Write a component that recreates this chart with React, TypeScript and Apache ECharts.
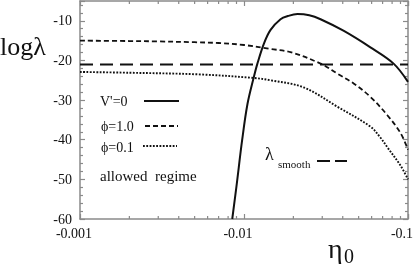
import React, { useEffect, useRef } from "react";
import * as echarts from "echarts";

// x tick labels (eta_0 is negative, axis shows |eta_0| on a log scale)
const xTickLabels = ["-0.001", "-0.01", "-0.1"];
const xMinorTickValues = [
  0.002, 0.003, 0.004, 0.005, 0.006, 0.007, 0.008, 0.009,
  0.02, 0.03, 0.04, 0.05, 0.06, 0.07, 0.08, 0.09,
];

// V' = 0 (solid)
const etaV0 = [0.00848, 0.009, 0.00975, 0.0105, 0.01148, 0.01207, 0.01321, 0.01452, 0.0167, 0.0185, 0.0212, 0.025, 0.0293, 0.0404, 0.059, 0.0817, 0.1];
const logLamV0 = [-60, -51.7, -40, -31, -24.2, -20.8, -15.8, -12.3, -9.6, -8.8, -8.3, -8.6, -9.6, -12.5, -16.7, -20.8, -25.4];

// phi = 1.0 (dashed)
const etaPhi10 = [0.001, 0.002, 0.003, 0.005, 0.007, 0.01, 0.0145, 0.0192, 0.0293, 0.037, 0.0466, 0.059, 0.0746, 0.09, 0.1];
const logLamPhi10 = [-15.0, -15.1, -15.2, -15.4, -15.6, -16.1, -17.1, -17.9, -20.8, -23.3, -25.8, -29.2, -33.75, -38.3, -42.5];

// phi = 0.1 (dotted)
const etaPhi01 = [0.001, 0.002, 0.0052, 0.0114, 0.0145, 0.0231, 0.0372, 0.059, 0.068, 0.0751, 0.09, 0.1];
const logLamPhi01 = [-22.9, -23.1, -23.5, -24.4, -25, -26.8, -31.7, -36.7, -39.5, -42, -46.5, -50];

// lambda_smooth (long dashed)
const etaSmooth = [0.001, 0.1];
const logLamSmooth = [-21, -21];

const FONT = "Liberation Serif";
const INK = "#111";
const AXIS = "#8a8a8a";

const zip = (xs: number[], ys: number[]) => xs.map((x, i) => [x, ys[i]]);

export default function App() {
  const ref = useRef<HTMLDivElement>(null);
  useEffect(() => {
    if (!ref.current) return;
    const chart = echarts.init(ref.current, undefined, { renderer: "svg" });
    const axisLine = { show: true, onZero: false, lineStyle: { color: AXIS, width: 1.5 } };
    const xMain = (pos: string, labels: boolean) => ({
      type: "log",
      logBase: 10,
      min: 0.001,
      max: 0.1,
      position: pos,
      axisLine,
      axisTick: { show: true, inside: true, length: 5, lineStyle: { color: AXIS, width: 1.2 } },
      axisLabel: {
        show: labels,
        fontFamily: FONT,
        fontSize: 14,
        color: INK,
        margin: 7,
        padding: [0, 12, 0, 0],
        formatter: (_v: number, i: number) => xTickLabels[i] ?? "",
      },
      splitLine: { show: false },
      minorTick: { show: false },
    });
    const yAx = (pos: string, labels: boolean) => ({
      type: "value",
      min: -60,
      max: -5,
      interval: 10,
      position: pos,
      axisLine,
      axisTick: { show: true, inside: true, length: 5, lineStyle: { color: AXIS, width: 1.2 } },
      minorTick: { show: true, splitNumber: 5, length: 3, lineStyle: { color: AXIS, width: 1.2 } },
      axisLabel: {
        show: labels,
        fontFamily: FONT,
        fontSize: 14,
        color: INK,
        margin: 8,
        formatter: (v: number) => (v === -5 ? "" : String(v)),
      },
      splitLine: { show: false },
      minorSplitLine: { show: false },
    });
    const lineSeries = (data: number[][], width: number, type: any) => ({
      type: "line",
      xAxisIndex: 0,
      yAxisIndex: 0,
      data,
      showSymbol: false,
      smooth: 0.35,
      clip: true,
      lineStyle: { color: INK, width, type },
    });
    const txt = (text: string, x: number, y: number, fontSize: number, align = "left") => ({
      type: "text",
      x,
      y,
      style: { text, fontFamily: FONT, fontSize, fill: INK, align, verticalAlign: "middle" },
    });
    const ln = (x1: number, y: number, x2: number, width: number, dash?: number[]) => ({
      type: "line",
      shape: { x1, y1: y, x2, y2: y },
      style: { stroke: INK, lineWidth: width, lineDash: dash },
    });
    const baseGraphic: any[] = [
      txt("logλ", 0, 46, 26),
      txt("η", 328, 248, 28),
      txt("0", 344, 256, 20),
      txt("V'=0", 100, 101, 14),
      ln(144, 101, 179, 2),
      txt("ϕ=1.0", 101, 126, 14),
      ln(145, 126, 178, 1.8, [5, 3]),
      txt("ϕ=0.1", 101, 147, 14),
      ln(143, 146, 177, 1.9, [1.8, 1.5]),
      txt("allowed  regime", 100, 176, 15),
      txt("λ", 265, 154, 18),
      txt("smooth", 278, 164, 11),
      ln(317, 161, 347, 2, [13, 5]),
    ];
    chart.setOption({
      animation: false,
      textStyle: { fontFamily: FONT },
      grid: { left: 80, right: 7, top: 1, bottom: 48, containLabel: false, outerBoundsMode: "none" },
      xAxis: [xMain("bottom", true), xMain("top", false)],
      yAxis: [yAx("left", true), yAx("right", false)],
      series: [
        lineSeries(zip(etaV0, logLamV0), 2, "solid"),
        lineSeries(zip(etaPhi10, logLamPhi10), 1.8, [5, 3]),
        lineSeries(zip(etaPhi01, logLamPhi01), 1.9, [1.8, 1.5]),
        { ...lineSeries(zip(etaSmooth, logLamSmooth), 2, [13, 7]), smooth: false },
      ],
      graphic: baseGraphic,
    });
    // log-spaced minor ticks on bottom and top x axes, placed through the axis scale
    const yBottom = chart.convertToPixel({ yAxisIndex: 0 }, -60) as number;
    const yTop = chart.convertToPixel({ yAxisIndex: 0 }, -5) as number;
    const tickEls: any[] = [];
    xMinorTickValues.forEach((v) => {
      const px = chart.convertToPixel({ xAxisIndex: 0 }, v) as number;
      tickEls.push({ type: "line", silent: true, shape: { x1: px, y1: yBottom, x2: px, y2: yBottom - 3 }, style: { stroke: AXIS, lineWidth: 1.2 } });
      tickEls.push({ type: "line", silent: true, shape: { x1: px, y1: yTop, x2: px, y2: yTop + 3 }, style: { stroke: AXIS, lineWidth: 1.2 } });
    });
    chart.setOption({ graphic: [...baseGraphic, ...tickEls] });
    return () => chart.dispose();
  }, []);
  return <div ref={ref} style={{ position: "fixed", left: 0, top: 0, width: 415, height: 267 }} />;
}
